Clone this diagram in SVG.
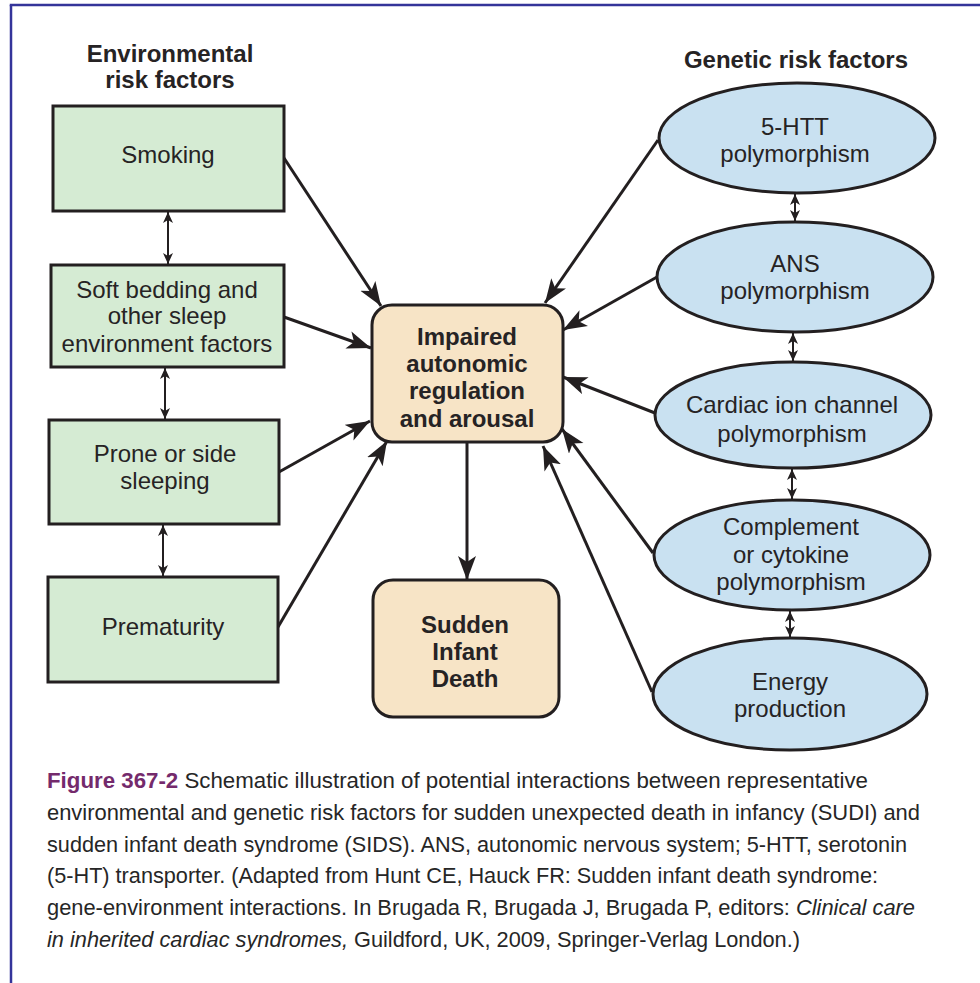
<svg xmlns="http://www.w3.org/2000/svg" width="980" height="983" viewBox="0 0 980 983">
<defs>
<style>
.lbl{font-family:"Liberation Sans",Arial,sans-serif;font-size:24px;fill:#262324;text-anchor:middle}
.b{font-weight:bold}
.box{fill:#d5ebd3;stroke:#231f20;stroke-width:3}
.ell{fill:#c9e1f1;stroke:#231f20;stroke-width:3}
.rbox{fill:#f7e4c6;stroke:#231f20;stroke-width:3}
.arr{stroke:#231f20;stroke-width:3;fill:none;marker-end:url(#big)}
.dbl{stroke:#231f20;stroke-width:2;fill:none;marker-start:url(#smallS);marker-end:url(#small)}
.cap{font-family:"Liberation Sans",Arial,sans-serif;font-size:22px;fill:#262626}
</style>
<marker id="big" markerUnits="userSpaceOnUse" markerWidth="26" markerHeight="20" refX="24" refY="9" orient="auto">
<path d="M0,0 L24,9 L0,18 L6,9 z" fill="#231f20"/>
</marker>
<marker id="small" markerUnits="userSpaceOnUse" markerWidth="12" markerHeight="12" refX="11" refY="5" orient="auto">
<path d="M0,0 L11,5 L0,10 L3,5 z" fill="#231f20"/>
</marker>
<marker id="smallS" markerUnits="userSpaceOnUse" markerWidth="12" markerHeight="12" refX="0" refY="5" orient="auto">
<path d="M11,0 L0,5 L11,10 L8,5 z" fill="#231f20"/>
</marker>
</defs>
<rect x="0" y="0" width="980" height="983" fill="#ffffff"/>
<g id="frame" stroke="#34349a" stroke-width="2.5" fill="none">
<line x1="9.75" y1="5" x2="980" y2="5"/>
<line x1="11" y1="5" x2="11" y2="983"/>
</g>
<g id="headings">
<text class="lbl b" x="170" y="62">Environmental</text>
<text class="lbl b" x="170" y="88">risk factors</text>
<text class="lbl b" x="796" y="68">Genetic risk factors</text>
</g>
<g id="connectors">
<line class="dbl" x1="168" y1="212" x2="168" y2="264"/>
<line class="dbl" x1="165" y1="368" x2="165" y2="419"/>
<line class="dbl" x1="163" y1="525" x2="163" y2="576"/>
<line class="dbl" x1="795" y1="194" x2="795" y2="221"/>
<line class="dbl" x1="793" y1="333" x2="793" y2="361"/>
<line class="dbl" x1="792" y1="469" x2="792" y2="499"/>
<line class="dbl" x1="790" y1="611" x2="790" y2="637"/>
<line class="arr" x1="284" y1="158" x2="381" y2="306"/>
<line class="arr" x1="284" y1="317" x2="371" y2="348"/>
<line class="arr" x1="279" y1="472" x2="370" y2="421"/>
<line class="arr" x1="278" y1="627" x2="387" y2="441"/>
<line class="arr" x1="658" y1="140" x2="545" y2="303"/>
<line class="arr" x1="657" y1="277" x2="563" y2="330"/>
<line class="arr" x1="655" y1="413" x2="563" y2="377"/>
<line class="arr" x1="653" y1="553" x2="562" y2="429"/>
<line class="arr" x1="652" y1="692" x2="543" y2="446"/>
<line class="arr" x1="467" y1="443" x2="467" y2="580"/>
</g>
<g id="smoking">
<rect class="box" x="53" y="106" width="231" height="105"/>
<text class="lbl" x="168" y="163">Smoking</text>
</g>
<g id="soft-bedding">
<rect class="box" x="51" y="265" width="233" height="102"/>
<text class="lbl" x="167" y="298">Soft bedding and</text>
<text class="lbl" x="167" y="324">other sleep</text>
<text class="lbl" x="167" y="352">environment factors</text>
</g>
<g id="prone">
<rect class="box" x="49" y="420" width="230" height="104"/>
<text class="lbl" x="165" y="462">Prone or side</text>
<text class="lbl" x="165" y="489">sleeping</text>
</g>
<g id="prematurity">
<rect class="box" x="48" y="577" width="230" height="105"/>
<text class="lbl" x="163" y="635">Prematurity</text>
</g>
<g id="impaired">
<rect class="rbox" x="372" y="305" width="191" height="137" rx="20"/>
<text class="lbl b" x="467" y="345">Impaired</text>
<text class="lbl b" x="467" y="372">autonomic</text>
<text class="lbl b" x="467" y="399">regulation</text>
<text class="lbl b" x="467" y="427">and arousal</text>
</g>
<g id="sids">
<rect class="rbox" x="373" y="580" width="186" height="137" rx="20"/>
<text class="lbl b" x="465" y="633">Sudden</text>
<text class="lbl b" x="465" y="660">Infant</text>
<text class="lbl b" x="465" y="687">Death</text>
</g>
<g id="htt">
<ellipse class="ell" cx="797" cy="138" rx="138" ry="55"/>
<text class="lbl" x="795" y="135">5-HTT</text>
<text class="lbl" x="795" y="162">polymorphism</text>
</g>
<g id="ans">
<ellipse class="ell" cx="795" cy="277" rx="138" ry="55"/>
<text class="lbl" x="795" y="272">ANS</text>
<text class="lbl" x="795" y="299">polymorphism</text>
</g>
<g id="cardiac">
<ellipse class="ell" cx="793" cy="415" rx="138" ry="53"/>
<text class="lbl" x="792" y="413">Cardiac ion channel</text>
<text class="lbl" x="792" y="442">polymorphism</text>
</g>
<g id="complement">
<ellipse class="ell" cx="792" cy="555" rx="138" ry="55"/>
<text class="lbl" x="791" y="535">Complement</text>
<text class="lbl" x="791" y="563">or cytokine</text>
<text class="lbl" x="791" y="590">polymorphism</text>
</g>
<g id="energy">
<ellipse class="ell" cx="790" cy="694" rx="137" ry="56"/>
<text class="lbl" x="790" y="690">Energy</text>
<text class="lbl" x="790" y="717">production</text>
</g>
<g id="caption">
<text class="cap" x="47" y="788" textLength="821" lengthAdjust="spacingAndGlyphs"><tspan font-weight="bold" fill="#742a6c">Figure 367-2</tspan> Schematic illustration of potential interactions between representative</text>
<text class="cap" x="47" y="820" textLength="873" lengthAdjust="spacingAndGlyphs">environmental and genetic risk factors for sudden unexpected death in infancy (SUDI) and</text>
<text class="cap" x="47" y="852" textLength="860" lengthAdjust="spacingAndGlyphs">sudden infant death syndrome (SIDS). ANS, autonomic nervous system; 5-HTT, serotonin</text>
<text class="cap" x="47" y="883" textLength="831" lengthAdjust="spacingAndGlyphs">(5-HT) transporter. (Adapted from Hunt CE, Hauck FR: Sudden infant death syndrome:</text>
<text class="cap" x="47" y="915" textLength="868" lengthAdjust="spacingAndGlyphs">gene-environment interactions. In Brugada R, Brugada J, Brugada P, editors: <tspan font-style="italic">Clinical care</tspan></text>
<text class="cap" x="47" y="947" textLength="753" lengthAdjust="spacingAndGlyphs"><tspan font-style="italic">in inherited cardiac syndromes,</tspan> Guildford, UK, 2009, Springer-Verlag London.)</text>
</g>
</svg>
